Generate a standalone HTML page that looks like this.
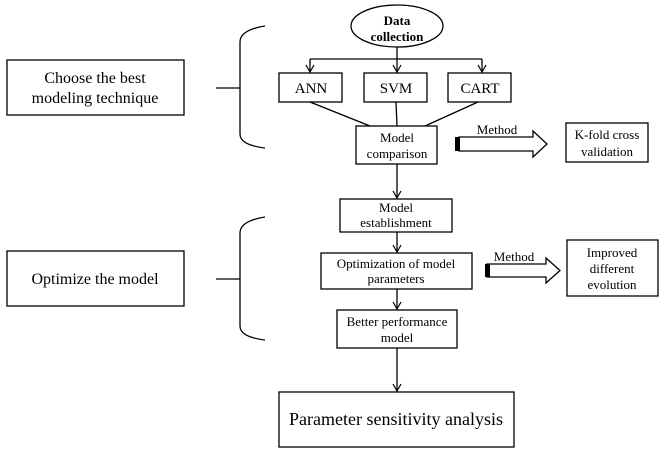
<!DOCTYPE html>
<html><head><meta charset="utf-8"><style>
html,body{margin:0;padding:0;background:#fff;}
svg text{font-family:"Liberation Serif",serif;fill:#000;}
</style></head><body>
<svg width="667" height="453" viewBox="0 0 667 453" xmlns="http://www.w3.org/2000/svg">
<defs><marker id="a" markerWidth="10" markerHeight="10" refX="8" refY="5" orient="auto" markerUnits="userSpaceOnUse"><path d="M1,1 L8,5 L1,9" fill="none" stroke="#000" stroke-width="1.2"/></marker></defs>
<g fill="none" stroke="#000" stroke-width="1.3">
<rect x="7" y="60" width="177" height="55"/>
<rect x="7" y="251" width="177" height="55"/>
<line x1="216" y1="88" x2="240" y2="88"/>
<line x1="216" y1="279" x2="240" y2="279"/>
<path d="M265,26 Q240,30 240,42 L240,134 Q240,145 265,148"/>
<path d="M265,217 Q240,221 240,233 L240,326 Q240,337 265,340"/>
<ellipse cx="397" cy="26" rx="46" ry="21"/>
<line x1="397" y1="47" x2="397" y2="59"/>
<line x1="310" y1="59" x2="482" y2="59"/>
<line x1="310" y1="59" x2="310" y2="72" marker-end="url(#a)"/>
<line x1="397" y1="59" x2="397" y2="72" marker-end="url(#a)"/>
<line x1="482" y1="59" x2="482" y2="72" marker-end="url(#a)"/>
<rect x="279" y="73" width="63" height="29"/>
<rect x="364" y="73" width="63" height="29"/>
<rect x="448" y="73" width="63" height="29"/>
<line x1="310" y1="102" x2="370" y2="126"/>
<line x1="396" y1="102" x2="397" y2="126"/>
<line x1="478" y1="102" x2="425" y2="126"/>
<rect x="356" y="126" width="81" height="38"/>
<line x1="397" y1="164" x2="397" y2="198" marker-end="url(#a)"/>
<rect x="340" y="199" width="112" height="33"/>
<line x1="397" y1="232" x2="397" y2="252" marker-end="url(#a)"/>
<rect x="321" y="253" width="151" height="36"/>
<line x1="397" y1="289" x2="397" y2="309" marker-end="url(#a)"/>
<rect x="337" y="310" width="120" height="38"/>
<line x1="397" y1="348" x2="397" y2="391" marker-end="url(#a)"/>
<rect x="279" y="392" width="235" height="55"/>
<path d="M459,137 L533,137 L533,131 L547,144 L533,157 L533,151 L459,151 Z"/>
<path d="M487,264 L546,264 L546,258 L560,270.5 L546,283 L546,277 L487,277 Z"/>
<rect x="566" y="123" width="82" height="39"/>
<rect x="567" y="240" width="91" height="56"/>
</g>
<rect x="455" y="137" width="5" height="14" fill="#000"/>
<rect x="485" y="264" width="5" height="13" fill="#000"/>
<g font-size="16" text-anchor="middle">
<text x="95" y="83">Choose the best</text>
<text x="95" y="103">modeling technique</text>
<text x="95" y="284">Optimize the model</text>
</g>
<g font-size="13" text-anchor="middle" font-weight="bold">
<text x="397" y="25">Data</text>
<text x="397" y="41">collection</text>
</g>
<g font-size="15" text-anchor="middle">
<text x="311" y="93">ANN</text>
<text x="396" y="93">SVM</text>
<text x="480" y="93">CART</text>
</g>
<g font-size="13" text-anchor="middle">
<text x="397" y="142">Model</text>
<text x="397" y="158">comparison</text>
<text x="396" y="212">Model</text>
<text x="396" y="227">establishment</text>
<text x="396" y="268">Optimization of model</text>
<text x="396" y="283">parameters</text>
<text x="397" y="326">Better performance</text>
<text x="397" y="342">model</text>
<text x="607" y="139">K-fold cross</text>
<text x="607" y="156">validation</text>
<text x="612" y="257">Improved</text>
<text x="612" y="273">different</text>
<text x="612" y="289">evolution</text>
<text x="497" y="134">Method</text>
<text x="514" y="261">Method</text>
</g>
<text x="396" y="425" font-size="18" text-anchor="middle">Parameter sensitivity analysis</text>
</svg>
</body></html>
